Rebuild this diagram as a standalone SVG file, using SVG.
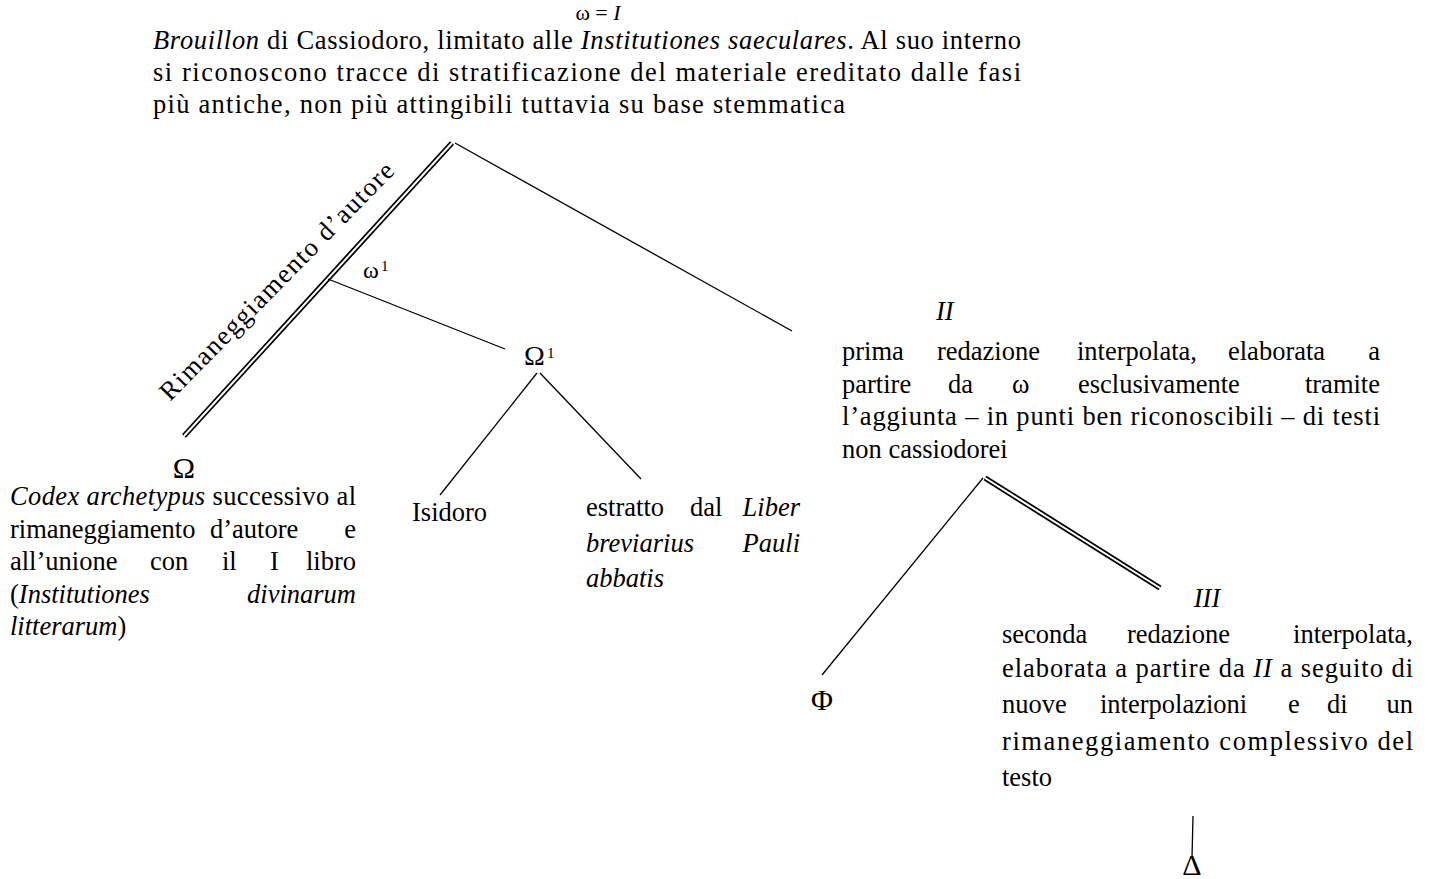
<svg xmlns="http://www.w3.org/2000/svg" width="1430" height="879" viewBox="0 0 1430 879">
<style>
text { font-family: "Liberation Serif", "DejaVu Serif", serif; font-size: 26.5px; fill: #000; }
.i { font-style: italic; }
.e { text-anchor: end; }
.m { text-anchor: middle; }
.g { font-size: 30px; }
.sup { font-size: 15px; }
.ln { stroke: #000; stroke-width: 1.3; fill: none; }
.db { stroke: #000; stroke-width: 5.5; fill: none; }
.dw { stroke: #fff; stroke-width: 2; fill: none; }
</style>
<rect width="1430" height="879" fill="#fff"/>
<g id="connectors">
  <line class="db" x1="184" y1="436" x2="452" y2="143"/>
  <line class="dw" x1="184" y1="436" x2="452" y2="143"/>
  <line class="ln" x1="455" y1="143" x2="792" y2="331"/>
  <line class="ln" x1="328" y1="279" x2="505" y2="349"/>
  <line class="ln" x1="537" y1="373" x2="440" y2="495"/>
  <line class="ln" x1="540" y1="373" x2="641" y2="479"/>
  <line class="ln" x1="983" y1="478" x2="822" y2="675"/>
  <line class="db" x1="985" y1="478" x2="1160" y2="588"/>
  <line class="dw" x1="985" y1="478" x2="1160" y2="588"/>
  <line class="ln" x1="1193" y1="816" x2="1192" y2="858"/>
  <text transform="translate(170,402) rotate(-45.5)" textLength="322" lengthAdjust="spacing">Rimaneggiamento d’autore</text>
</g>
<g id="node-omega">
  <text class="m" x="598" y="20" style="font-size:22px">ω = <tspan class="i">I</tspan></text>
  <text x="153" y="49" textLength="868" lengthAdjust="spacing"><tspan class="i">Brouillon</tspan> di Cassiodoro, limitato alle <tspan class="i">Institutiones saeculares</tspan>. Al suo interno</text>
  <text x="153" y="81" textLength="868" lengthAdjust="spacing">si riconoscono tracce di stratificazione del materiale ereditato dalle fasi</text>
  <text x="153" y="113" textLength="692" lengthAdjust="spacing">più antiche, non più attingibili tuttavia su base stemmatica</text>
</g>
<g id="node-omega1">
  <text x="363" y="278" style="font-size:24px">ω</text>
  <text class="sup" x="381" y="271">1</text>
</g>
<g id="node-Omega">
  <text class="g m" x="184" y="478">Ω</text>
  <text x="10" y="505" textLength="346" lengthAdjust="spacing"><tspan class="i">Codex archetypus</tspan> successivo al</text>
  <text x="10" y="538">rimaneggiamento</text>
  <text x="210" y="538">d’autore</text>
  <text class="e" x="356" y="538">e</text>
  <text x="10" y="570">all’unione</text>
  <text x="150" y="570">con</text>
  <text x="222" y="570">il</text>
  <text x="270" y="570">I</text>
  <text class="e" x="356" y="570">libro</text>
  <text x="10" y="603">(<tspan class="i">Institutiones</tspan></text>
  <text class="e i" x="356" y="603">divinarum</text>
  <text x="10" y="635"><tspan class="i">litterarum</tspan>)</text>
</g>
<g id="node-Omega1">
  <text x="524" y="365" style="font-size:28px">Ω</text>
  <text class="sup" x="547" y="358">1</text>
</g>
<g id="node-isidoro">
  <text x="412" y="521">Isidoro</text>
</g>
<g id="node-liber">
  <text x="586" y="516">estratto</text>
  <text x="690" y="516">dal</text>
  <text class="e i" x="800" y="516">Liber</text>
  <text class="i" x="586" y="552">breviarius</text>
  <text class="e i" x="800" y="552">Pauli</text>
  <text class="i" x="586" y="587">abbatis</text>
</g>
<g id="node-II">
  <text class="i" x="936" y="320">II</text>
  <text x="842" y="360">prima</text>
  <text x="937" y="360">redazione</text>
  <text x="1077" y="360">interpolata,</text>
  <text x="1228" y="360">elaborata</text>
  <text class="e" x="1380" y="360">a</text>
  <text x="842" y="393">partire</text>
  <text x="948" y="393">da</text>
  <text x="1012" y="393">ω</text>
  <text x="1078" y="393">esclusivamente</text>
  <text class="e" x="1380" y="393">tramite</text>
  <text x="842" y="425" textLength="538" lengthAdjust="spacing">l’aggiunta – in punti ben riconoscibili – di testi</text>
  <text x="842" y="458">non cassiodorei</text>
</g>
<g id="node-Phi">
  <text class="g m" x="822" y="710">Φ</text>
</g>
<g id="node-III">
  <text class="i m" x="1207" y="607">III</text>
  <text x="1002" y="643">seconda</text>
  <text x="1127" y="643">redazione</text>
  <text class="e" x="1413" y="643">interpolata,</text>
  <text x="1002" y="677" textLength="411" lengthAdjust="spacing">elaborata a partire da <tspan class="i">II</tspan> a seguito di</text>
  <text x="1002" y="713">nuove</text>
  <text x="1100" y="713">interpolazioni</text>
  <text x="1288" y="713">e</text>
  <text x="1327" y="713">di</text>
  <text class="e" x="1413" y="713">un</text>
  <text x="1002" y="750" textLength="411" lengthAdjust="spacing">rimaneggiamento complessivo del</text>
  <text x="1002" y="786">testo</text>
</g>
<g id="node-Delta">
  <text class="g m" x="1192" y="875">Δ</text>
</g>
</svg>
